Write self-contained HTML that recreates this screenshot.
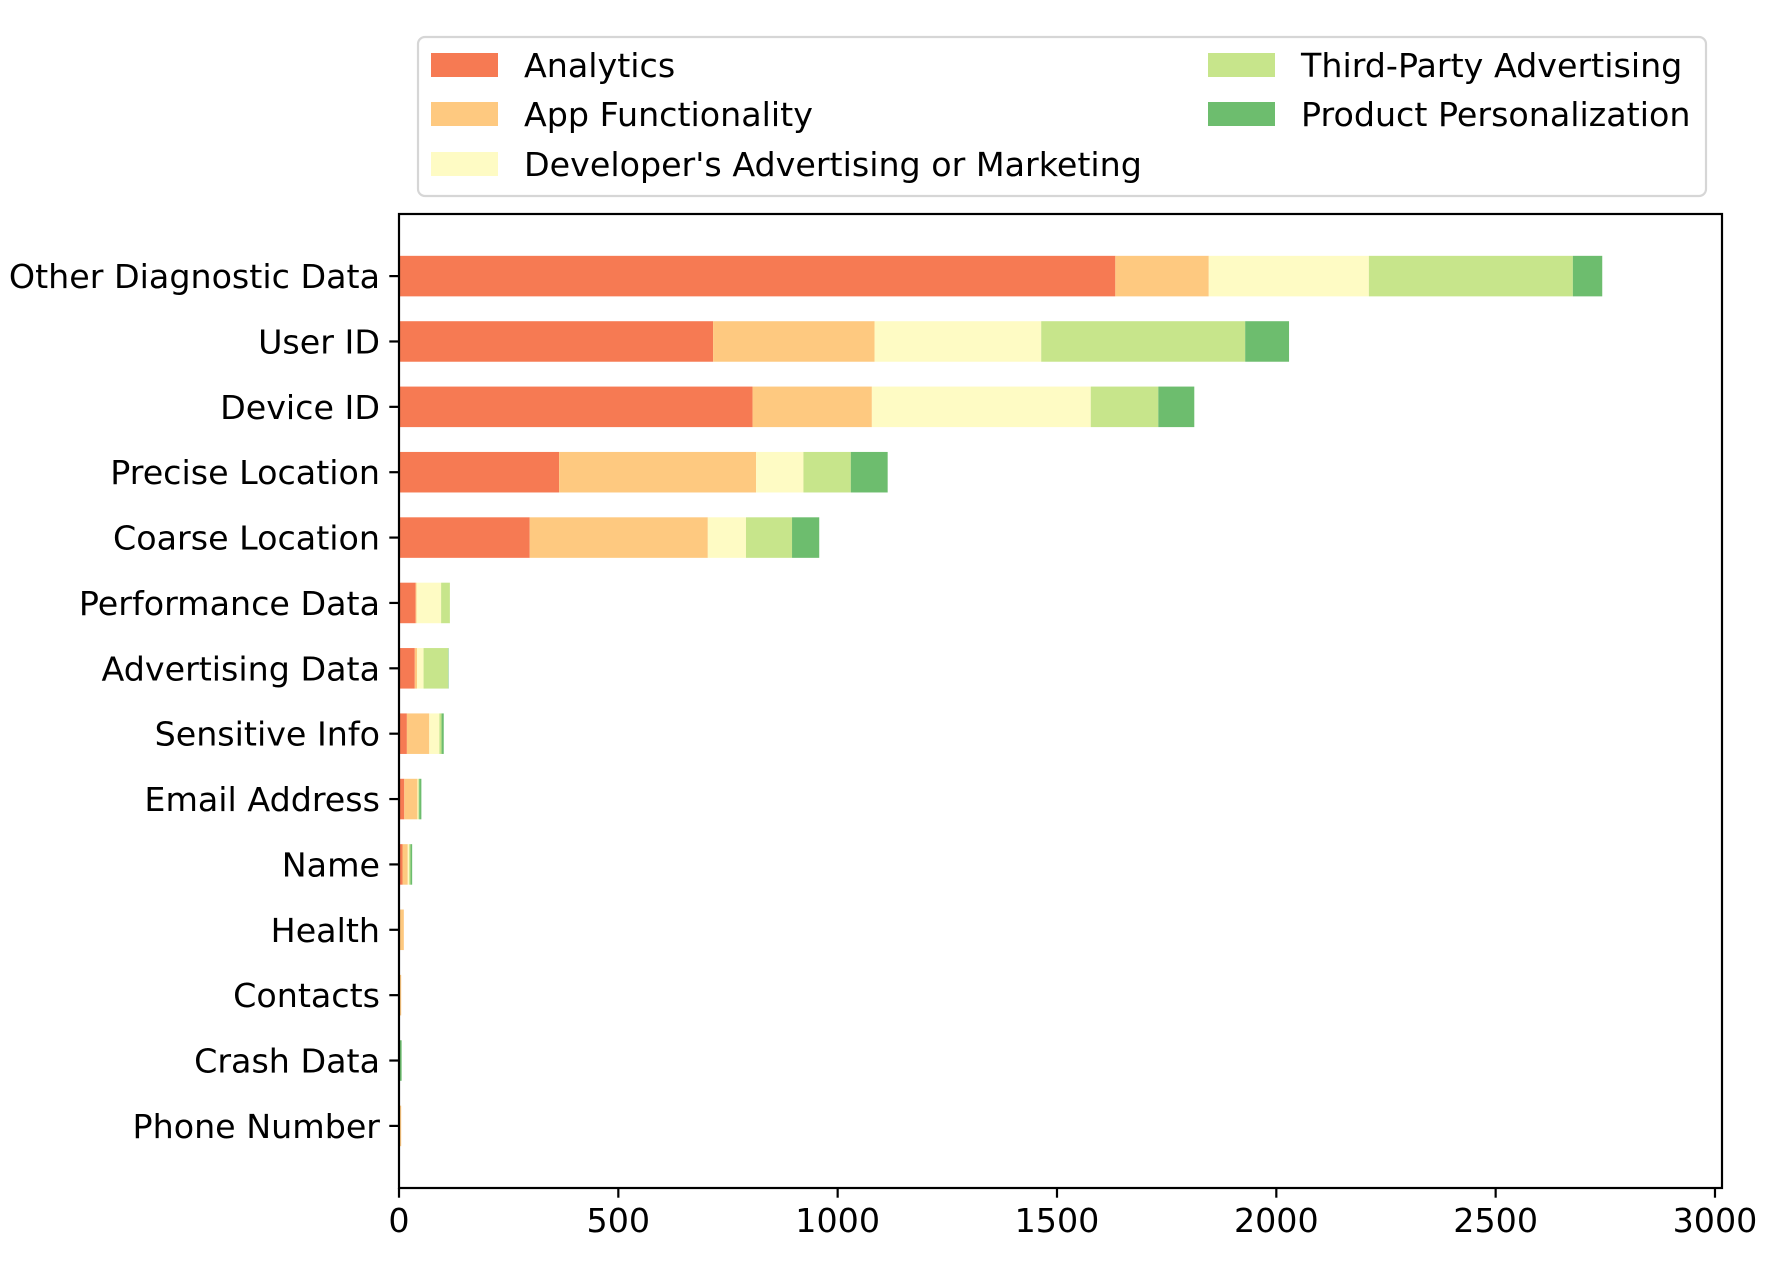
<!DOCTYPE html>
<html><head><meta charset="utf-8"><style>
html,body{margin:0;padding:0;background:#fff;}
svg{display:block;font-family:"DejaVu Sans","Liberation Sans",sans-serif;}
</style></head><body>
<svg id="chart" width="1766" height="1276" viewBox="0 0 1766 1276" xmlns="http://www.w3.org/2000/svg">
<g id="legend"></g>
<g id="bars"></g>
<g id="axes"></g>
</svg>
<script>
const categories = ["Other Diagnostic Data","User ID","Device ID","Precise Location","Coarse Location","Performance Data","Advertising Data","Sensitive Info","Email Address","Name","Health","Contacts","Crash Data","Phone Number"];
const seriesNames = ["Analytics","App Functionality","Developer's Advertising or Marketing","Third-Party Advertising","Product Personalization"];
const analytics = [1633,716,806,365,298,38,36,18,12,8,2,0,1,0];
const appFunctionality = [213,368,272,449,406,2,5,51,30,12,9,5,0,5];
const developerAdvertising = [365,380,499,108,87,56,15,23,2,3,0,0,0,0];
const thirdPartyAdvertising = [465,465,154,108,105,20,56,5,2,3,0,0,0,0];
const productPersonalization = [67,100,82,84,62,0,1,5,5,4,0,0,5,0];
const xTicks = [0,500,1000,1500,2000,2500,3000];
const colors = ["#f67a53","#fec980","#fefbc4","#c7e58b","#6dbd6e"];

const NS="http://www.w3.org/2000/svg";
const L=399,R=1722,T=214,B=1188,XMAX=3016;
const FS=33.3;
const yMin=-0.95,yMax=13.95;
function xs(v){return L+(v/XMAX)*(R-L);}
function ys(i){return T+((i-yMin)/(yMax-yMin))*(B-T);}
const bandPx=(B-T)/(yMax-yMin);
const barH=bandPx*0.62;
function mk(tag,attrs,parent){const e=document.createElementNS(NS,tag);for(const k in attrs)e.setAttribute(k,attrs[k]);parent.appendChild(e);return e;}
const series=[analytics,appFunctionality,developerAdvertising,thirdPartyAdvertising,productPersonalization];
const gb=document.getElementById('bars');
categories.forEach((c,i)=>{
  let acc=0;
  series.forEach((s,j)=>{
    const v=s[i];
    const r=mk('rect',{x:xs(acc),y:ys(i)-barH/2,width:Math.max(0,xs(acc+v)-xs(acc)),height:barH,fill:colors[j]},gb);
    
    
    acc+=v;
  });
});
const ga=document.getElementById('axes');
const frame=mk('rect',{x:L,y:T,width:R-L,height:B-T,fill:'none',stroke:'#000','stroke-width':2.2},ga);


xTicks.forEach(t=>{
  const x=xs(t);
  mk('line',{x1:x,y1:B,x2:x,y2:B+9.7,stroke:'#000','stroke-width':2.2},ga);
  const tx=mk('text',{x:x,y:B+44,'font-size':FS,'text-anchor':'middle',fill:'#000'},ga);
  tx.textContent=t;
  
  
});
categories.forEach((c,i)=>{
  const y=ys(i);
  mk('line',{x1:L,y1:y,x2:L-9.7,y2:y,stroke:'#000','stroke-width':2.2},ga);
  const tx=mk('text',{x:L-19,y:y+12,'font-size':FS,'text-anchor':'end',fill:'#000'},ga);
  tx.textContent=c;
  
  
});
const gl=document.getElementById('legend');
const lb=mk('rect',{x:418,y:37,width:1288,height:159,rx:7,fill:'#fff',stroke:'#d6d6d6','stroke-width':2.2},gl);


const pos=[[431,65],[431,114],[431,164],[1208,65],[1208,114]];
seriesNames.forEach((n,j)=>{
  const [x,y]=pos[j];
  const sw=mk('rect',{x:x,y:y-12,width:67,height:24,fill:colors[j]},gl);
  
  
  const tx=mk('text',{x:x+93,y:y+12,'font-size':FS,fill:'#000'},gl);
  tx.textContent=n;
  
  
});
</script>
</body></html>
